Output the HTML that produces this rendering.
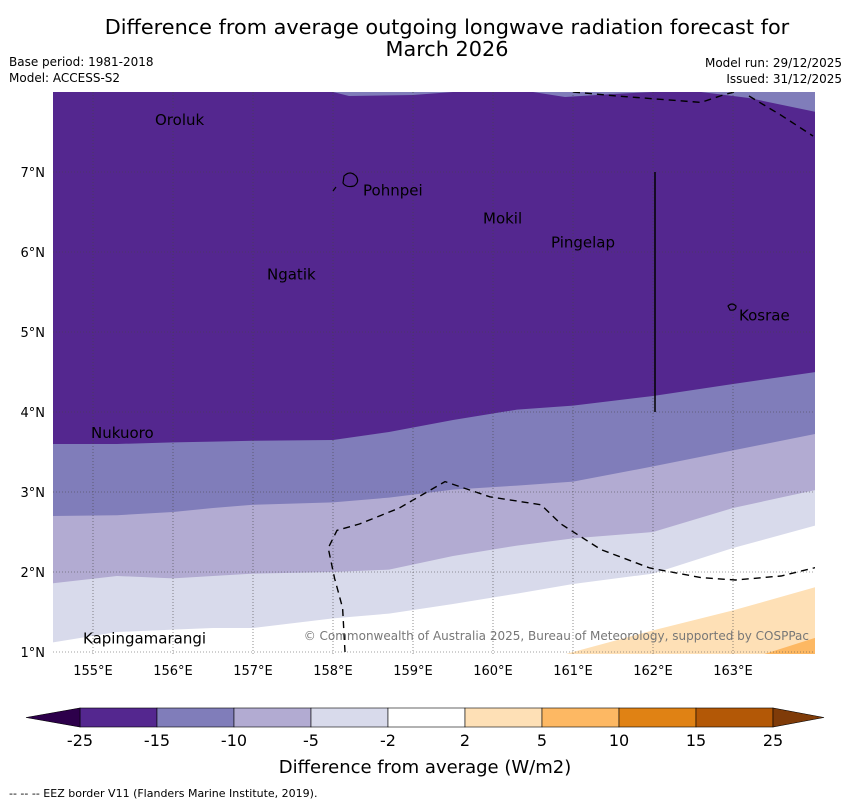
<!DOCTYPE html>
<html><head><meta charset="utf-8"><style>
body{margin:0;background:#fff;width:850px;height:804px;overflow:hidden;font-family:"Liberation Sans","DejaVu Sans",sans-serif}
svg text{font-family:"DejaVu Sans","Liberation Sans",sans-serif}
</style></head><body>
<svg id="c" width="850" height="804" xmlns="http://www.w3.org/2000/svg">
<text x="447" y="34" font-size="20.8" text-anchor="middle">Difference from average outgoing longwave radiation forecast for</text>
<text x="447" y="56" font-size="20.8" text-anchor="middle">March 2026</text>
<text x="9" y="66" font-size="12">Base period: 1981-2018</text>
<text x="9" y="82" font-size="12">Model: ACCESS-S2</text>
<text x="842" y="67" font-size="12" text-anchor="end">Model run: 29/12/2025</text>
<text x="842" y="83" font-size="12" text-anchor="end">Issued: 31/12/2025</text>
<g id="map"></g>
<g id="cb"></g>
<text x="425" y="773" font-size="18" text-anchor="middle">Difference from average (W/m2)</text>
<text x="9" y="797" font-size="11">--  --  -- EEZ border V11 (Flanders Marine Institute, 2019).</text>
</svg>
<script>
const lons=[154.5,155.3,156,156.5,157,158,158.7,159.5,160.3,161,162,163,164.1];
const b_m15=[3.6,3.6,3.62,3.63,3.64,3.65,3.75,3.9,4.03,4.08,4.2,4.35,4.51];
const b_m10=[2.7,2.71,2.75,2.8,2.84,2.87,2.93,3.03,3.08,3.13,3.32,3.52,3.74];
const b_m5=[1.86,1.95,1.92,1.95,1.98,2.0,2.03,2.2,2.33,2.42,2.5,2.8,3.04];
const b_m2=[1.12,1.25,1.28,1.3,1.3,1.42,1.48,1.6,1.73,1.85,1.98,2.3,2.6];
const b_p2=[0.8,0.8,0.8,0.8,0.8,0.8,0.8,0.8,0.8,1.0,1.27,1.52,1.83];
const b_p5=[0.8,0.8,0.8,0.8,0.8,0.8,0.8,0.8,0.8,0.8,0.8,0.85,1.2];
const fills=['#54278f','#807dba','#b2abd2','#d8daeb','#ffffff','#fee0b6','#fdb863'];
const xTicks=[155,156,157,158,159,160,161,162,163];
const yTicks=[1,2,3,4,5,6,7];
const places=[["Oroluk",155.75,7.66],["Pohnpei",158.35,6.78],["Mokil",159.85,6.43],["Pingelap",160.7,6.13],["Ngatik",157.15,5.73],["Kosrae",163.05,5.22],["Nukuoro",154.95,3.75],["Kapingamarangi",154.85,1.18]];
const eez1=[[158.15,1],[158.12,1.55],[158.02,1.92],[157.94,2.3],[158.05,2.52],[158.33,2.6],[158.83,2.8],[159.4,3.13],[159.96,2.94],[160.6,2.84],[160.85,2.6],[161.35,2.28],[161.96,2.05],[162.6,1.93],[163.03,1.9],[163.6,1.95],[164.05,2.06]];
const eez2=[[161,8],[161.55,7.95],[162.6,7.87],[162.9,7.97],[163.1,8.02]];
const eez3=[[163.2,7.95],[163.6,7.71],[164.0,7.45]];
const cbLevels=['-25','-15','-10','-5','-2','2','5','10','15','25'];
const cbColors=['#54278f','#807dba','#b2abd2','#d8daeb','#ffffff','#fee0b6','#fdb863','#e08214','#b35806'];
const NS='http://www.w3.org/2000/svg';
const X=l=>53+(l-154.5)*80, Y=a=>92+(8-a)*80;
function el(t,a,p){const e=document.createElementNS(NS,t);for(const k in a)e.setAttribute(k,a[k]);p.appendChild(e);return e;}
const map=document.getElementById('map');
const defs=el('defs',{},map);const cp=el('clipPath',{id:'clp'},defs);el('rect',{x:53,y:92,width:762,height:562},cp);
const g=el('g',{'clip-path':'url(#clp)'},map);
const bg=el('rect',{x:53,y:92,width:762,height:562,fill:fills[0]},g);


const tp=el('path',{d:`M${X(158)},92 L${X(158.2)},96 L${X(159)},95 L${X(159.5)},92Z M${X(160.5)},92 L${X(160.9)},97 L${X(161.5)},94 L${X(162)},92Z M${X(162.6)},92 L${X(163.2)},98 L${X(164.1)},113 L${X(164.1)},92Z`,fill:fills[1]},g);


const bounds=[b_m15,b_m10,b_m5,b_m2,b_p2,b_p5];
const names=['band-minus15-minus10','band-minus10-minus5','band-minus5-minus2','band-minus2-2','band-2-5','band-5-10'];
bounds.forEach((b,i)=>{let d='M'+X(lons[0])+','+Y(b[0]);for(let j=1;j<lons.length;j++)d+=' L'+X(lons[j])+','+Y(b[j]);d+=` L830,700 L53,700Z`;
const p=el('path',{d:d,fill:fills[i+1]},g);

});
xTicks.forEach(l=>{const ln=el('line',{x1:X(l),x2:X(l),y1:92,y2:654,stroke:'#444','stroke-width':0.6,'stroke-dasharray':'1,2'},map);


const t=el('text',{x:X(l),y:675,'font-size':13,'text-anchor':'middle'},map);t.textContent=l+'°E';

});
yTicks.forEach(a=>{const ln=el('line',{x1:53,x2:815,y1:Y(a),y2:Y(a),stroke:'#444','stroke-width':0.6,'stroke-dasharray':'1,2'},map);


const t=el('text',{x:45,y:Y(a)+5,'font-size':13,'text-anchor':'end'},map);t.textContent=a+'°N';

});
[eez1,eez2,eez3].forEach(pts=>{const p=el('polyline',{points:pts.map(q=>X(q[0])+','+Y(q[1])).join(' '),fill:'none',stroke:'#000','stroke-width':1.4,'stroke-dasharray':'7,5'},g);

});
const vl=el('line',{x1:655,x2:655,y1:172,y2:412,stroke:'#000','stroke-width':1.5},map);


const isl=el('path',{d:'M344,176 q6,-6 12,0 q4,6 -2,10 q-8,2 -11,-3z M728,306 q4,-4 8,0 q0,5 -6,4z M333,191 l3,-4',fill:'none',stroke:'#000','stroke-width':1.2},map);


places.forEach(p=>{const t=el('text',{x:X(p[1])+2,y:Y(p[2])+6,'font-size':15},map);t.textContent=p[0];

});
const cr=el('text',{x:809,y:640,'font-size':12,'text-anchor':'end',fill:'#777'},map);cr.textContent='© Commonwealth of Australia 2025, Bureau of Meteorology, supported by COSPPac';


const cb=document.getElementById('cb');const x0=80,w=77;
cbColors.forEach((c,i)=>{const r=el('rect',{x:x0+i*w,y:708,width:w,height:19,fill:c,stroke:'#000','stroke-width':0.6},cb);

});
const la=el('polygon',{points:`${x0},708 ${x0},727 26,717.5`,fill:'#2d004b',stroke:'#000','stroke-width':0.6},cb);


const ra=el('polygon',{points:`${x0+9*w},708 ${x0+9*w},727 824,717.5`,fill:'#7f3b08',stroke:'#000','stroke-width':0.6},cb);


cbLevels.forEach((v,i)=>{const t=el('text',{x:x0+i*w,y:746,'font-size':16,'text-anchor':'middle'},cb);t.textContent=v;

});
</script>
</body></html>
